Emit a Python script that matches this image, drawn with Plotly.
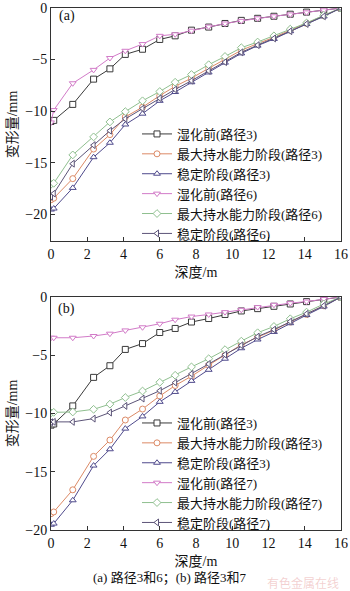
import plotly.graph_objects as go
from plotly.subplots import make_subplots

# depth positions (m)
depth = [0, 0.15, 1.2, 2.35, 3.25, 4.1, 5.05, 6.0, 6.85, 7.75, 8.7, 9.6, 10.5, 11.4, 12.3, 13.2, 14.1, 15.05, 16]

# path 3 (shared by both panels)
p3_before = [-11.0, -10.9, -9.35, -6.9, -5.9, -4.5, -4.0, -3.05, -2.7, -2.15, -1.85, -1.5, -1.2, -1.0, -0.8, -0.6, -0.4, -0.2, 0]
p3_max = [-18.6, -18.45, -16.55, -13.68, -12.28, -10.56, -9.62, -8.5, -7.6, -6.8, -5.85, -5.0, -4.1, -3.45, -2.85, -2.15, -1.5, -0.75, 0]
p3_stable = [-19.55, -19.45, -17.45, -14.47, -13.07, -11.3, -10.25, -9.0, -8.15, -7.2, -6.25, -5.3, -4.4, -3.65, -3.0, -2.25, -1.55, -0.82, 0]

# path 6
p6_before = [-11.1, -9.9, -7.3, -6.0, -4.85, -4.15, -3.5, -2.7, -2.55, -2.2, -1.8, -1.5, -1.25, -1.0, -0.8, -0.62, -0.42, -0.22, 0]
p6_max = [-17.1, -17.0, -14.25, -12.5, -11.05, -10.05, -9.0, -8.1, -7.2, -6.45, -5.5, -4.7, -3.85, -3.3, -2.7, -2.05, -1.45, -0.7, 0]
p6_stable = [-18.3, -18.0, -15.1, -13.3, -11.9, -10.75, -9.75, -8.75, -7.9, -7.05, -6.1, -5.25, -4.3, -3.6, -2.95, -2.25, -1.55, -0.8, 0]

# path 7
p7_before = [-3.5, -3.5, -3.5, -3.35, -3.15, -2.87, -2.6, -2.3, -1.95, -1.68, -1.5, -1.3, -1.1, -0.87, -0.67, -0.53, -0.39, -0.17, 0]
p7_max = [-9.95, -9.9, -9.87, -9.64, -9.2, -8.63, -8.07, -7.32, -6.72, -6.0, -5.3, -4.52, -3.79, -3.07, -2.53, -1.87, -1.3, -0.6, 0]
p7_stable = [-10.75, -10.72, -10.72, -10.44, -9.92, -9.35, -8.72, -8.05, -7.35, -6.6, -5.75, -4.95, -4.15, -3.4, -2.8, -2.1, -1.45, -0.75, 0]

names_top = ["湿化前(路径3)", "最大持水能力阶段(路径3)", "稳定阶段(路径3)",
             "湿化前(路径6)", "最大持水能力阶段(路径6)", "稳定阶段(路径6)"]
names_bot = ["湿化前(路径3)", "最大持水能力阶段(路径3)", "稳定阶段(路径3)",
             "湿化前(路径7)", "最大持水能力阶段(路径7)", "稳定阶段(路径7)"]
x_ticks = [0, 2, 4, 6, 8, 10, 12, 14, 16]
y_ticks = [0, -5, -10, -15, -20]
caption = "(a) 路径3和6；(b) 路径3和7"

colors = ["#3a3a3a", "#dc8a66", "#4f4a8c", "#d27bc8", "#8fbf8f", "#5c5478"]
symbols = ["square", "circle", "triangle-up", "triangle-down", "diamond", "triangle-left"]

SERIF = "Liberation Serif, Noto Sans CJK SC"

fig = make_subplots(rows=2, cols=1)

top_series = [p3_before, p3_max, p3_stable, p6_before, p6_max, p6_stable]
bot_series = [p3_before, p3_max, p3_stable, p7_before, p7_max, p7_stable]

for i, ys in enumerate(top_series):
    fig.add_trace(go.Scatter(
        x=depth, y=ys, name=names_top[i], mode="lines+markers",
        line=dict(color=colors[i], width=1),
        marker=dict(symbol=symbols[i], size=6, color="white",
                    line=dict(color=colors[i], width=1)),
        legend="legend"), row=1, col=1)

for i, ys in enumerate(bot_series):
    fig.add_trace(go.Scatter(
        x=depth, y=ys, name=names_bot[i], mode="lines+markers",
        line=dict(color=colors[i], width=1),
        marker=dict(symbol=symbols[i], size=6, color="white",
                    line=dict(color=colors[i], width=1)),
        legend="legend2"), row=2, col=1)

axis_common = dict(showline=True, linecolor="#333", linewidth=1, mirror=True,
                   ticks="inside", ticklen=4, tickcolor="#333", showgrid=False,
                   zeroline=False, automargin=False, ticklabeloverflow="allow",
                   tickfont=dict(family=SERIF, size=14, color="#111"))

for r in (1, 2):
    fig.update_xaxes(range=[0, 16], tickvals=x_ticks,
                     title=dict(text="深度/m", font=dict(family=SERIF, size=14, color="#111"), standoff=6),
                     row=r, col=1, **axis_common)
fig.update_yaxes(range=[-22.6, 0], tickvals=y_ticks,
                 title=dict(text="变形量/mm", font=dict(family=SERIF, size=14, color="#111"), standoff=4),
                 row=1, col=1, **axis_common)
fig.update_yaxes(range=[-20, 0], tickvals=y_ticks,
                 title=dict(text="变形量/mm", font=dict(family=SERIF, size=14, color="#111"), standoff=4),
                 row=2, col=1, **axis_common)

fig.update_layout(
    template="none",
    width=350, height=591,
    margin=dict(l=51, r=9, t=8, b=61, autoexpand=False),
    plot_bgcolor="white", paper_bgcolor="white",
    xaxis=dict(domain=[0, 1]), xaxis2=dict(domain=[0, 1]),
    yaxis=dict(domain=[0.5536, 1.0]), yaxis2=dict(domain=[0.0, 0.4464]),
    legend=dict(x=0.2966, y=0.7874, xanchor="left", yanchor="top",
                bgcolor="rgba(0,0,0,0)", font=dict(family=SERIF, size=13, color="#111"),
                tracegroupgap=0),
    legend2=dict(x=0.2966, y=0.2337, xanchor="left", yanchor="top",
                 bgcolor="rgba(0,0,0,0)", font=dict(family=SERIF, size=13, color="#111"),
                 tracegroupgap=0),
    showlegend=True,
    annotations=[
        dict(text="(a)", xref="x domain", yref="y domain", x=0.055, y=0.965,
             showarrow=False, xanchor="center", yanchor="middle",
             font=dict(family=SERIF, size=14, color="#111")),
        dict(text="(b)", xref="x2 domain", yref="y2 domain", x=0.055, y=0.95,
             showarrow=False, xanchor="center", yanchor="middle",
             font=dict(family=SERIF, size=14, color="#111")),
        dict(text=caption, xref="paper", yref="paper", x=0.41, y=-0.092,
             showarrow=False, xanchor="center", yanchor="middle",
             font=dict(family=SERIF, size=13, color="#111")),
        dict(text="有色金属在线", xref="paper", yref="paper", x=1.0, y=-0.1015,
             showarrow=False, xanchor="right", yanchor="middle",
             font=dict(family="Noto Sans CJK SC", size=12, color="rgba(220,120,120,0.35)")),
    ],
)

fig.write_html("out.html")
